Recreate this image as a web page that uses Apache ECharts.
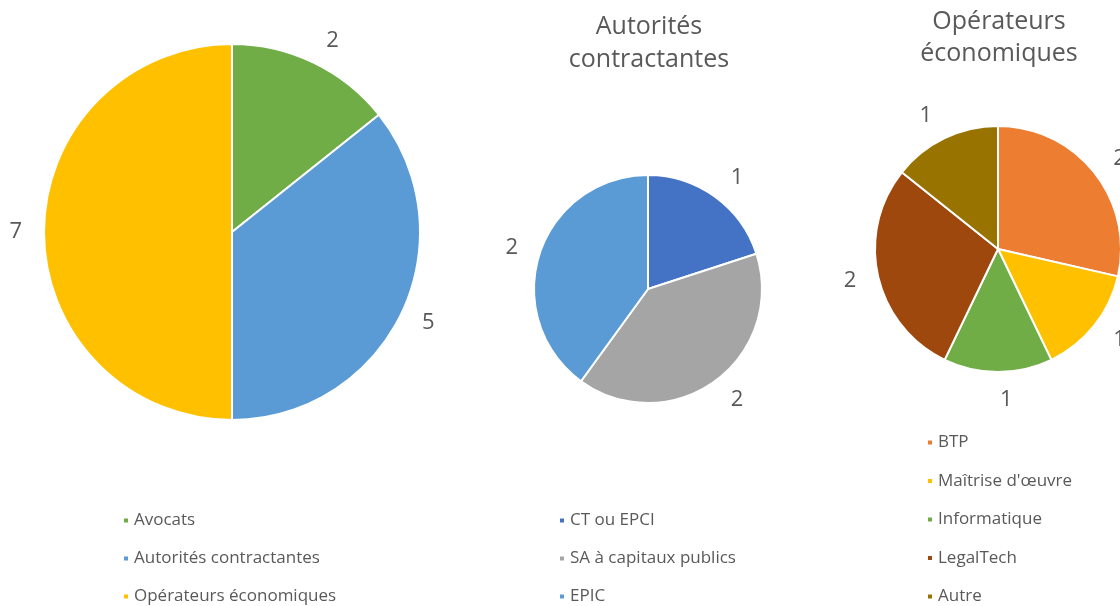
<!DOCTYPE html>
<html>
<head>
<meta charset="utf-8">
<script src="https://cdn.jsdelivr.net/npm/echarts@6/dist/echarts.min.js"></script>
<style>
  html, body { margin: 0; padding: 0; background: #fff; }
  #chart { width: 1120px; height: 606px; }
</style>
</head>
<body>
<div id="chart"></div>
<script>
// répartition générale
const totalNames = ['Avocats', 'Autorités contractantes', 'Opérateurs économiques']
const totalValues = [2, 5, 7]
const totalColors = ['#70AD47', '#5B9BD5', '#FFC000']

// autorités contractantes
const acTitle = 'Autorités\ncontractantes'
const acNames = ['CT ou EPCI', 'SA à capitaux publics', 'EPIC']
const acValues = [1, 2, 2]
const acColors = ['#4472C4', '#A5A5A5', '#5B9BD5']

// opérateurs économiques
const oeTitle = 'Opérateurs\néconomiques'
const oeNames = ['BTP', "Maîtrise d'œuvre", 'Informatique', 'LegalTech', 'Autre']
const oeValues = [2, 1, 1, 2, 1]
const oeColors = ['#ED7D31', '#FFC000', '#70AD47', '#9E480E', '#997300']

const font = '"Open Sans", sans-serif'
const grey = '#595959'

// labels sit a bit further out on top/bottom slices than on side slices (like Excel)
const toData = (names, values, colors) => {
  const sum = values.reduce((a, b) => a + b, 0)
  let acc = 0
  return names.map((n, i) => {
    const mid = (acc + values[i] / 2) / sum * 2 * Math.PI
    acc += values[i]
    const dx = Math.abs(Math.sin(mid))
    return {
      name: n,
      value: values[i],
      itemStyle: { color: colors[i] },
      labelLine: { show: false, length: 28 - 8 * dx, length2: 0 }
    }
  })
}

const pie = (data, center, radius) => ({
  type: 'pie',
  center: center,
  radius: radius,
  startAngle: 90,
  clockwise: true,
  avoidLabelOverlap: false,
  data: data,
  itemStyle: { borderColor: '#fff', borderWidth: 2 },
  label: {
    show: true,
    position: 'outside',
    formatter: '{c}',
    fontSize: 22,
    fontFamily: font,
    color: grey,
    distanceToLabelLine: 2
  },
  labelLine: { show: false, length: 22, length2: 0 },
  emphasis: { disabled: true }
})

const legend = (names, left, top, gap) => ({
  data: names,
  orient: 'vertical',
  left: left,
  top: top,
  height: 240,
  padding: 0,
  icon: 'rect',
  itemWidth: 6,
  itemHeight: 6,
  itemGap: gap,
  textStyle: { fontSize: 17, fontFamily: font, color: grey, lineHeight: 16 }
})

const chart = echarts.init(document.getElementById('chart'))

chart.setOption({
  animation: false,
  backgroundColor: '#fff',
  title: [
    {
      text: acTitle, left: 644, top: 5, textAlign: 'center',
      textStyle: { fontSize: 25, fontWeight: 'normal', fontFamily: font, color: grey, lineHeight: 33 }
    },
    {
      text: oeTitle, left: 994, top: 1, textAlign: 'center',
      textStyle: { fontSize: 25, fontWeight: 'normal', fontFamily: font, color: grey, lineHeight: 32 }
    }
  ],
  legend: [
    legend(totalNames, 122, 512, 21),
    legend(acNames, 558, 512, 21),
    legend(oeNames, 926, 434, 21.5)
  ],
  series: [
    pie(toData(totalNames, totalValues, totalColors), [232, 232], 188),
    pie(toData(acNames, acValues, acColors), [648, 289], 114),
    pie(toData(oeNames, oeValues, oeColors), [998, 249], 123)
  ]
})
</script>
</body>
</html>
